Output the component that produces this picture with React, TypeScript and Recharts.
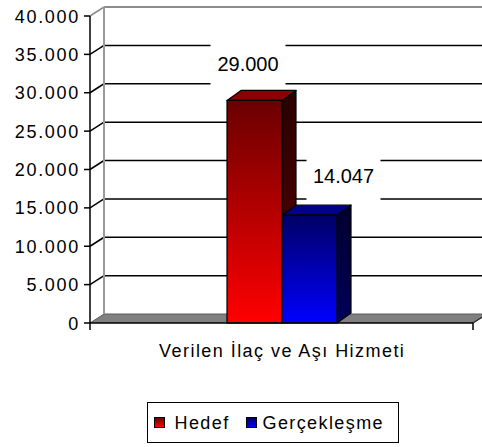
import React from 'react';
import { BarChart, Bar, XAxis, YAxis, CartesianGrid, Legend, LabelList } from 'recharts';

// chart values
const categories = ['Verilen İlaç ve Aşı Hizmeti'];
const hedefValues = [29000];
const gerceklesmeValues = [14047];
const yTicks = [0, 5000, 10000, 15000, 20000, 25000, 30000, 35000, 40000];
const seriesNames = ['Hedef', 'Gerçekleşme'];

const data = categories.map((name, i) => ({
  name,
  hedef: hedefValues[i],
  gerceklesme: gerceklesmeValues[i],
}));

const FONT = '"Liberation Sans", Arial, sans-serif';
// depth of the back wall (oblique 3D look)
const DX = 14;
const DY = 9;

// 40000 -> "40.000"
const fmt = (v: number) => String(v).replace(/\B(?=(\d{3})+(?!\d))/g, '.');

const renderBackLine = (p: any) => {
  const { x1, y1, x2, y, height, index } = p;
  const bottom = y + height;
  if (Math.abs(y1 - bottom) < 1) {
    // floor
    return (
      <g key={`floor-${index}`}>
        <polygon
          points={`${x1},${bottom} ${x1 + DX},${bottom - DY} ${x2 + DX},${bottom - DY} ${x2},${bottom}`}
          fill="#808080"
        />
        <line x1={x1 + DX} y1={bottom - DY} x2={x2 + DX} y2={bottom - DY} stroke="#5a5a5a" strokeWidth={1} />
        <line x1={x1} y1={bottom} x2={x1 + DX} y2={bottom - DY} stroke="#5a5a5a" strokeWidth={1} />
        <line x1={x2} y1={bottom} x2={x2 + DX} y2={bottom - DY} stroke="#222" strokeWidth={1.2} />
        <line x1={x1} y1={bottom} x2={x1} y2={bottom + 7} stroke="#000" strokeWidth={1.5} />
        <line x1={x2} y1={bottom} x2={x2} y2={bottom + 7} stroke="#000" strokeWidth={1.5} />
      </g>
    );
  }
  const isTop = Math.abs(y1 - y) < 1;
  const col = isTop ? '#8c8c8c' : '#000';
  return (
    <g key={`grid-${index}`}>
      <line x1={x1} y1={y1} x2={x1 + DX} y2={y1 - DY} stroke={col} strokeWidth={1.5} />
      <line x1={x1 + DX} y1={y1 - DY} x2={x2 + DX} y2={y1 - DY} stroke={col} strokeWidth={isTop ? 2 : 1.5} />
      {isTop && (
        <line x1={x1 + DX} y1={y1 - DY} x2={x1 + DX} y2={bottom - DY} stroke="#9a9a9a" strokeWidth={2} />
      )}
    </g>
  );
};

const make3DBar = (front: string, side: string, top: string) => (props: any) => {
  const { x, y, width: w, height: h } = props;
  if (!h) return null;
  const d = 14;
  const e = 10;
  return (
    <g>
      <polygon
        points={`${x + w},${y} ${x + w + d},${y - e} ${x + w + d},${y + h - e} ${x + w},${y + h}`}
        fill={`url(#${side})`}
        stroke="#000"
        strokeWidth={1.2}
        strokeLinejoin="round"
      />
      <polygon
        points={`${x},${y} ${x + d},${y - e} ${x + w + d},${y - e} ${x + w},${y}`}
        fill={top}
        stroke="#000"
        strokeWidth={1.2}
        strokeLinejoin="round"
      />
      <rect x={x} y={y} width={w} height={h} fill={`url(#${front})`} stroke="#000" strokeWidth={1.2} />
    </g>
  );
};

const makeValueLabel = (shiftX: number, boxW: number, textDy: number) => (props: any) => {
  const { x, y, width, value } = props;
  const cx = x + width / 2 + shiftX;
  return (
    <g>
      <rect x={cx - boxW / 2} y={y - 58} width={boxW} height={44} fill="#fff" />
      <text x={cx} y={y + textDy} textAnchor="middle" fontFamily={FONT} fontSize={20} fill="#000">
        {fmt(value)}
      </text>
    </g>
  );
};

const YTick = (p: any) => (
  <text
    x={p.x - 2}
    y={p.y + 6.5}
    textAnchor="end"
    fontFamily={FONT}
    fontSize={18}
    letterSpacing={1.7}
    fill="#000"
  >
    {fmt(p.payload.value)}
  </text>
);

const XTick = (p: any) => (
  <text
    x={p.x + 0.7}
    y={p.y + 34}
    textAnchor="middle"
    fontFamily={FONT}
    fontSize={18}
    letterSpacing={1.45}
    fill="#000"
  >
    {p.payload.value}
  </text>
);

const swatch = (left: number, bg: string): React.CSSProperties => ({
  position: 'absolute',
  left,
  top: 13.5,
  width: 11,
  height: 11,
  boxSizing: 'border-box',
  border: '1px solid #000',
  background: bg,
});

const LegendBox = () => (
  <div
    style={{
      position: 'relative',
      width: 252,
      height: 41,
      boxSizing: 'border-box',
      border: '1.5px solid #000',
      background: '#fff',
      fontFamily: FONT,
      fontSize: 18,
      lineHeight: '18px',
      letterSpacing: 1.4,
      color: '#000',
    }}
  >
    <span style={swatch(5.5, 'linear-gradient(#6a0000, #ff0000)')} />
    <span style={{ position: 'absolute', left: 26.5, top: 10.5 }}>{seriesNames[0]}</span>
    <span style={swatch(97.5, 'linear-gradient(#000066, #0000ff)')} />
    <span style={{ position: 'absolute', left: 114.5, top: 10.5 }}>{seriesNames[1]}</span>
  </div>
);

export default function App() {
  return (
    <div style={{ position: 'absolute', left: 0, top: 0, width: 482, height: 447, background: '#fff' }}>
      <BarChart
        width={482}
        height={447}
        data={data}
        margin={{ top: 16, right: 9, left: 0, bottom: 4 }}
        barGap={0}
        barSize={55}
      >
        <defs>
          <linearGradient id="redFront" x1="0" y1="0" x2="0" y2="1">
            <stop offset="0%" stopColor="#6a0000" />
            <stop offset="100%" stopColor="#ff0000" />
          </linearGradient>
          <linearGradient id="redSide" x1="0" y1="0" x2="0" y2="1">
            <stop offset="0%" stopColor="#2a0000" />
            <stop offset="100%" stopColor="#5c0000" />
          </linearGradient>
          <linearGradient id="blueFront" x1="0" y1="0" x2="0" y2="1">
            <stop offset="0%" stopColor="#000066" />
            <stop offset="100%" stopColor="#0000ff" />
          </linearGradient>
          <linearGradient id="blueSide" x1="0" y1="0" x2="0" y2="1">
            <stop offset="0%" stopColor="#00002e" />
            <stop offset="100%" stopColor="#000058" />
          </linearGradient>
        </defs>
        <CartesianGrid vertical={false} horizontal={renderBackLine} />
        <XAxis
          dataKey="name"
          height={79}
          tickSize={0}
          tickMargin={0}
          tickLine={false}
          axisLine={{ stroke: '#000', strokeWidth: 1.5 }}
          tick={XTick}
        />
        <YAxis
          domain={[0, 40000]}
          ticks={yTicks}
          width={90}
          tickSize={6}
          tickMargin={2}
          axisLine={{ stroke: '#000', strokeWidth: 1.5 }}
          tickLine={{ stroke: '#000', strokeWidth: 1.5 }}
          tick={YTick}
        />
        <Legend
          verticalAlign="bottom"
          content={() => <LegendBox />}
          wrapperStyle={{ left: 147, top: 402, width: 252, height: 41 }}
        />
        <Bar
          dataKey="hedef"
          name={seriesNames[0]}
          fill="#ff0000"
          isAnimationActive={false}
          shape={make3DBar('redFront', 'redSide', '#8c0000')}
        >
          <LabelList dataKey="hedef" content={makeValueLabel(-6.5, 75, -29)} />
        </Bar>
        <Bar
          dataKey="gerceklesme"
          name={seriesNames[1]}
          fill="#0000ff"
          isAnimationActive={false}
          shape={make3DBar('blueFront', 'blueSide', '#00008c')}
        >
          <LabelList dataKey="gerceklesme" content={makeValueLabel(34, 74, -32)} />
        </Bar>
      </BarChart>
    </div>
  );
}
